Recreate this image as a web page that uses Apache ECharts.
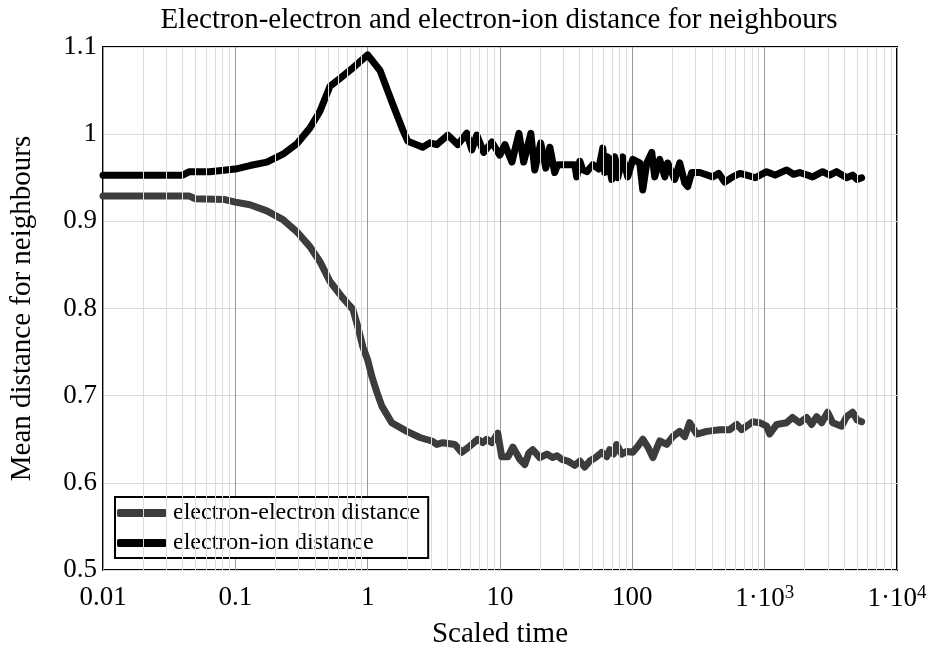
<!DOCTYPE html>
<html>
<head>
<meta charset="utf-8">
<script src="https://cdn.jsdelivr.net/npm/echarts@6/dist/echarts.min.js"></script>
<style>
  html, body { margin: 0; padding: 0; background: #fff; }
  #chart { width: 932px; height: 648px; }
</style>
</head>
<body>
<div id="chart"></div>
<script>
// electron-electron distance
var eeTime = [0.01, 0.045, 0.0495, 0.0834, 0.1, 0.129, 0.173, 0.229, 0.292, 0.366, 0.435, 0.519, 0.65, 0.773,
  0.843, 0.92, 1.0, 1.076, 1.173, 1.28, 1.52, 1.98, 2.48, 3.05, 3.33, 3.7, 4.56, 5.14, 5.91, 6.79, 7.41,
  7.94, 8.67, 9.62, 10.3, 11.5, 12.5, 13.4, 14.1, 15.4, 16.5, 17.7, 20.0, 22.6, 25.0, 27.0, 29.3, 32.5,
  36.7, 40.1, 43.7, 47.7, 53.8, 58.7, 64.1, 67.5, 72.0, 76.2, 83.2, 90.8, 100.7, 110, 120, 131, 143, 161,
  182, 202, 228, 249, 271, 306, 365, 457, 544, 615, 670, 811, 916, 1035, 1091, 1233, 1466, 1626, 1838,
  2075, 2264, 2471, 2697, 2992, 3266, 3819, 4161, 4621, 5000, 5405];
var eeDist = [0.929, 0.929, 0.926, 0.925, 0.922, 0.919, 0.912, 0.902, 0.888, 0.871, 0.854, 0.831, 0.812, 0.799,
  0.779, 0.756, 0.741, 0.722, 0.704, 0.688, 0.669, 0.659, 0.652, 0.648, 0.644, 0.646, 0.644, 0.635, 0.642, 0.65, 0.646,
  0.65, 0.646, 0.657, 0.63, 0.63, 0.641, 0.633, 0.627, 0.621, 0.634, 0.638, 0.629, 0.633, 0.629, 0.631, 0.627, 0.625,
  0.62, 0.625, 0.618, 0.625, 0.63, 0.635, 0.63, 0.638, 0.633, 0.644, 0.633, 0.636, 0.635, 0.642, 0.65, 0.641, 0.629, 0.648,
  0.644, 0.653, 0.659, 0.653, 0.669, 0.656, 0.659, 0.661, 0.661, 0.667, 0.661, 0.67, 0.669, 0.665, 0.656, 0.667, 0.669, 0.675, 0.669,
  0.675, 0.667, 0.676, 0.669, 0.681, 0.669, 0.665, 0.676, 0.681, 0.672, 0.67];

// electron-ion distance
var eiTime = [0.01, 0.04, 0.045, 0.064, 0.1, 0.129, 0.173, 0.229, 0.292, 0.366, 0.435, 0.519, 0.617, 0.8,
  1.0, 1.24, 1.55, 1.84, 2.01, 2.61, 2.95, 3.33, 4.03, 4.8, 5.61, 6.12, 6.68, 7.54, 8.67, 9.96, 10.9, 12.3,
  13.9, 15.1, 17.1, 18.3, 20.3, 22.2, 23.8, 25.9, 27.3, 36.7, 38.0, 40.1, 42.2, 45.3, 50.2, 55.7, 59.8,
  61.9, 65.2, 69.9, 73.6, 77.6, 84.6, 92.3, 100.7, 113.7, 119.9, 128.5, 140.2, 147.6, 161, 176, 185, 209,
  228, 249, 262, 281, 323, 405, 450, 499, 573, 650, 731, 850, 1035, 1200, 1466, 1650, 1838, 2305, 2742,
  3100, 3500, 4161, 4621, 5000, 5405];
var eiDist = [0.953, 0.953, 0.957, 0.957, 0.96, 0.964, 0.968, 0.977, 0.989, 1.007, 1.026, 1.055, 1.064, 1.078,
  1.091, 1.073, 1.034, 1.005, 0.992, 0.985, 0.99, 0.988, 0.999, 0.988, 1.001, 0.982, 0.999, 0.979, 0.991, 0.976, 0.988, 0.968,
  1.001, 0.968, 1.001, 0.959, 0.99, 0.961, 0.985, 0.956, 0.965, 0.965, 0.951, 0.969, 0.959, 0.957, 0.965, 0.96, 0.984,
  0.956, 0.974, 0.948, 0.974, 0.95, 0.974, 0.951, 0.971, 0.967, 0.936, 0.967, 0.979, 0.951, 0.971, 0.951, 0.967, 0.948,
  0.967, 0.944, 0.94, 0.956, 0.956, 0.951, 0.955, 0.945, 0.951, 0.955, 0.953, 0.95, 0.957, 0.953, 0.959, 0.954, 0.956, 0.951, 0.957,
  0.953, 0.957, 0.95, 0.953, 0.948, 0.95];

var seriesNames = ['electron-electron distance', 'electron-ion distance'];
var minorTicks = [0.02, 0.03, 0.04, 0.05, 0.06, 0.07, 0.08, 0.09,
  0.2, 0.3, 0.4, 0.5, 0.6, 0.7, 0.8, 0.9,
  2, 3, 4, 5, 6, 7, 8, 9,
  20, 30, 40, 50, 60, 70, 80, 90,
  200, 300, 400, 500, 600, 700, 800, 900,
  2000, 3000, 4000, 5000, 6000, 7000, 8000, 9000];

var serif = '"Liberation Serif", "Times New Roman", serif';

function pairs(xs, ys) {
  var out = [];
  for (var i = 0; i < xs.length; i++) out.push([xs[i], ys[i]]);
  return out;
}

function xLabel(v) {
  var e = Math.round(Math.log10(v));
  if (e >= 3) return '{a|1·10}{s|' + e + '}';
  if (e >= 0) return String(Math.pow(10, e));
  return (Math.pow(10, e)).toFixed(-e);
}

var chart = echarts.init(document.getElementById('chart'), null, { renderer: 'canvas' });
chart.setOption({
  animation: false,
  backgroundColor: '#fff',
  title: {
    text: 'Electron-electron and electron-ion distance for neighbours',
    left: 494,
    top: 1,
    textAlign: 'center',
    textStyle: { fontFamily: serif, fontSize: 29, fontWeight: 'normal', color: '#000' }
  },
  legend: {
    data: seriesNames,
    orient: 'vertical',
    left: 115,
    top: 497,
    icon: 'roundRect',
    itemWidth: 50,
    itemHeight: 8,
    itemGap: 6,
    padding: [4, 8, 3, 2],
    backgroundColor: '#fff',
    borderColor: '#000',
    borderWidth: 2,
    borderRadius: 0,
    textStyle: { fontFamily: serif, fontSize: 24, color: '#000', padding: [0, 0, 0, 1] }
  },
  grid: {
    left: 103,
    top: 47,
    width: 794,
    height: 523,
    outerBoundsMode: 'none',
    containLabel: false,
    show: true,
    borderColor: '#000',
    borderWidth: 2,
    backgroundColor: 'transparent'
  },
  xAxis: {
    type: 'log',
    logBase: 10,
    min: 0.01,
    max: 10000,
    name: 'Scaled time',
    nameLocation: 'middle',
    nameGap: 50,
    nameTextStyle: { fontFamily: serif, fontSize: 29, color: '#000' },
    axisLine: { show: false },
    axisTick: { show: false },
    axisLabel: {
      margin: 14,
      fontFamily: serif,
      fontSize: 27,
      color: '#000',
      formatter: xLabel,
      rich: {
        a: { fontFamily: serif, fontSize: 27, color: '#000' },
        s: { fontFamily: serif, fontSize: 19, color: '#000', verticalAlign: 'top', padding: [0, 0, 11, 0] }
      }
    },
    splitLine: { show: true, lineStyle: { color: '#999', width: 1 } }
  },
  yAxis: {
    type: 'value',
    min: 0.5,
    max: 1.1,
    interval: 0.1,
    name: 'Mean distance for neighbours',
    nameLocation: 'middle',
    nameGap: 66,
    nameTextStyle: { fontFamily: serif, fontSize: 29, color: '#000' },
    axisLine: { show: false },
    axisTick: { show: false },
    axisLabel: {
      margin: 6,
      fontFamily: serif,
      fontSize: 27,
      color: '#000',
      formatter: function (v) { return String(+v.toFixed(1)); }
    },
    splitLine: { show: true, lineStyle: { color: '#dcdcdc', width: 1 } }
  },
  series: [
    {
      name: 'grid-minor',
      type: 'line',
      data: [],
      silent: true,
      z: 1,
      markLine: {
        silent: true,
        symbol: 'none',
        label: { show: false },
        lineStyle: { color: '#dcdcdc', width: 1, type: 'solid' },
        data: minorTicks.map(function (t) { return { xAxis: t }; })
      }
    },
    {
      name: seriesNames[0],
      type: 'line',
      data: pairs(eeTime, eeDist),
      showSymbol: false,
      symbol: 'none',
      z: 3,
      itemStyle: { color: '#3c3c3c' },
      lineStyle: { color: '#3c3c3c', width: 7, join: 'round', cap: 'round' }
    },
    {
      name: seriesNames[1],
      type: 'line',
      data: pairs(eiTime, eiDist),
      showSymbol: false,
      symbol: 'none',
      z: 4,
      itemStyle: { color: '#000' },
      lineStyle: { color: '#000', width: 7, join: 'round', cap: 'round' }
    }
  ]
});
</script>
</body>
</html>
